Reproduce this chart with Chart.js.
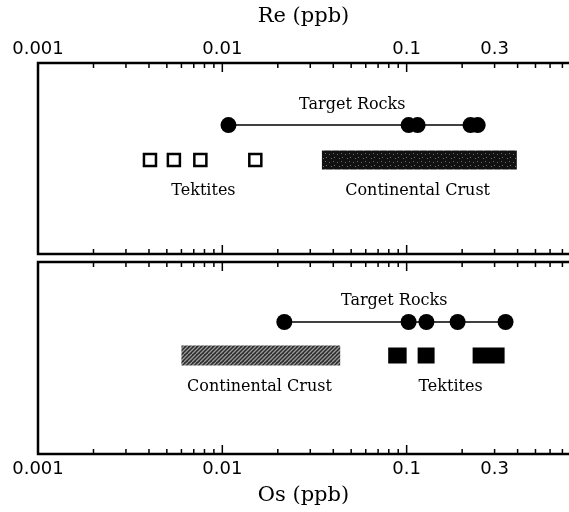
<!DOCTYPE html>
<html><head><meta charset="utf-8">
<script src="https://cdn.jsdelivr.net/npm/chart.js@4/dist/chart.umd.min.js"></script>
<style>html,body{margin:0;padding:0;background:#fff;overflow:hidden}canvas{display:block}</style>
</head><body>
<canvas id="topChart" width="569" height="258"></canvas>
<canvas id="botChart" width="569" height="254"></canvas>
<script>
// ---------- data ----------
const TICK_VALUES = [0.001,0.002,0.003,0.004,0.005,0.006,0.007,0.008,0.009,
                     0.01,0.02,0.03,0.04,0.05,0.06,0.07,0.08,0.09,
                     0.1,0.2,0.3,0.4,0.5,0.6,0.7];
const MAJOR_TICKS = [0.001,0.01,0.1];
const TICK_LABEL_VALUES = [0.001,0.01,0.1,0.3];
const TICK_LABEL_TEXT  = ['0.001','0.01','0.1','0.3'];

// Re (ppb), top panel
const RE_TARGET_ROCKS = [0.0108,0.1025,0.1147,0.222,0.243];
const RE_TEKTITES     = [0.00405,0.00546,0.0076,0.0151];
const RE_CRUST_RANGE  = [0.0347,0.396];

// Os (ppb), bottom panel
const OS_TARGET_ROCKS    = [0.0217,0.1025,0.128,0.189,0.344];
const OS_TEKTITE_RANGES  = [[0.0794,0.100],[0.1147,0.1418],[0.228,0.340]];
const OS_CRUST_RANGE     = [0.0060,0.0436];

// ---------- layout / style constants ----------
const X_MIN = 0.001, X_MAX = 0.76;
const TOP_ROW_LINE = 0.675, TOP_ROW_SAMPLES = 0.492;
const BOT_ROW_LINE = 0.6875, BOT_ROW_SAMPLES = 0.513;
const SERIF = "'DejaVu Serif', serif";
const SANS  = "'DejaVu Sans', sans-serif";

const TOP_NOTES = [
  {text:'Target Rocks', x:0.0507, y:0.78},
  {text:'Tektites', x:0.0079, y:0.33},
  {text:'Continental Crust', x:0.1147, y:0.33}
];
const BOT_NOTES = [
  {text:'Target Rocks', x:0.0856, y:0.80},
  {text:'Continental Crust', x:0.0159, y:0.35},
  {text:'Tektites', x:0.173, y:0.35}
];

function makePattern(kind){
  const c = document.createElement('canvas'); c.width = 8; c.height = 8;
  const g = c.getContext('2d');
  if (kind === 'dark'){
    g.fillStyle = '#111'; g.fillRect(0,0,8,8);
    g.fillStyle = '#707070';
    [[1,2],[5,1],[3,6],[6,5]].forEach(([x,y]) => g.fillRect(x,y,1,1));
  } else {
    g.fillStyle = '#2a2a2a'; g.fillRect(0,0,8,8);
    g.strokeStyle = '#999'; g.lineWidth = 1.3;
    for (let k = -8; k <= 16; k += 4){ g.beginPath(); g.moveTo(k,8); g.lineTo(k+8,0); g.stroke(); }
  }
  return g.createPattern(c,'repeat');
}

function xAxis(pos, title, height){
  return {
    type:'logarithmic', position:pos, min:X_MIN, max:X_MAX,
    afterBuildTicks(s){ s.ticks = TICK_VALUES.map(v => ({value:v})); },
    afterFit(s){ s.height = height; s.paddingLeft = 0; s.paddingRight = 0; },
    grid:{display:false, drawTicks:false}, border:{display:false},
    ticks:{autoSkip:false, maxRotation:0, minRotation:0, padding: pos==='top'?3:5, color:'#000',
      font:{family:SANS, size:18},
      callback(v){ const i = TICK_LABEL_VALUES.indexOf(v); return i >= 0 ? TICK_LABEL_TEXT[i] : ''; }},
    title:{display:true, text:title, color:'#000', font:{family:SERIF, size:21}, padding:{top:4,bottom:4}}
  };
}

const framePlugin = {
  id:'frame',
  afterDatasetsDraw(chart){
    const {ctx, chartArea:a} = chart, xs = chart.scales.x;
    ctx.save();
    ctx.strokeStyle = '#000'; ctx.lineWidth = 2.5; ctx.lineCap = 'square';
    ctx.beginPath();
    ctx.moveTo(a.left, a.top); ctx.lineTo(a.right + 3, a.top);
    ctx.moveTo(a.left, a.bottom); ctx.lineTo(a.right + 3, a.bottom);
    ctx.moveTo(a.left, a.top); ctx.lineTo(a.left, a.bottom);
    ctx.stroke();
    ctx.lineWidth = 1.5; ctx.lineCap = 'butt';
    ctx.beginPath();
    TICK_VALUES.forEach(v => {
      const px = xs.getPixelForValue(v);
      if (px < a.left - 1 || px > a.right + 1) return;
      const len = MAJOR_TICKS.includes(v) ? 9 : 5;
      ctx.moveTo(px, a.top); ctx.lineTo(px, a.top + len);
      ctx.moveTo(px, a.bottom); ctx.lineTo(px, a.bottom - len);
    });
    ctx.stroke();
    ctx.restore();
  }
};

const notesPlugin = {
  id:'notes',
  afterDatasetsDraw(chart, args, opts){
    const {ctx} = chart, xs = chart.scales.x, ys = chart.scales.y;
    ctx.save();
    ctx.fillStyle = '#000'; ctx.font = "16px " + SERIF;
    ctx.textAlign = 'center'; ctx.textBaseline = 'middle';
    (opts.items || []).forEach(n => ctx.fillText(n.text, xs.getPixelForValue(n.x), ys.getPixelForValue(n.y)));
    ctx.restore();
  }
};

function rangeDataset(range, row, color, width){
  return {type:'line', data: range.map(v => ({x:v, y:row})), showLine:true,
          borderColor:color, borderWidth:width, borderCapStyle:'butt',
          pointRadius:0, pointHoverRadius:0, tension:0, fill:false, clip:false};
}
function targetDataset(values, row){
  return {data: values.map(v => ({x:v, y:row})), showLine:true, borderColor:'#000', borderWidth:1.5, clip:false,
          pointRadius:8, pointHoverRadius:8, pointBackgroundColor:'#000', pointBorderColor:'#000', pointBorderWidth:0};
}

function baseOptions(pos, title, axisHeight, padding, notes){
  return {
    responsive:false, animation:false, events:[],
    layout:{padding, autoPadding:false},
    plugins:{legend:{display:false}, tooltip:{enabled:false}, notes:{items:notes}},
    scales:{ x: xAxis(pos, title, axisHeight), y:{type:'linear', min:0, max:1, display:false} }
  };
}

new Chart(document.getElementById('topChart'), {
  type:'scatter',
  data:{datasets:[
    targetDataset(RE_TARGET_ROCKS, TOP_ROW_LINE),
    {data: RE_TEKTITES.map(v => ({x:v, y:TOP_ROW_SAMPLES})), pointStyle:'rect', pointRadius:8.5, pointHoverRadius:8.5,
     pointBackgroundColor:'#fff', pointBorderColor:'#000', pointBorderWidth:2.5, showLine:false, clip:false},
    rangeDataset(RE_CRUST_RANGE, TOP_ROW_SAMPLES, makePattern('dark'), 19)
  ]},
  options: baseOptions('top', 'Re (ppb)', 63, {left:38, right:0, top:0, bottom:4}, TOP_NOTES),
  plugins:[framePlugin, notesPlugin]
});

new Chart(document.getElementById('botChart'), {
  type:'scatter',
  data:{datasets:[
    targetDataset(OS_TARGET_ROCKS, BOT_ROW_LINE),
    ...OS_TEKTITE_RANGES.map(r => rangeDataset(r, BOT_ROW_SAMPLES, '#000', 16)),
    rangeDataset(OS_CRUST_RANGE, BOT_ROW_SAMPLES, makePattern('hatch'), 20)
  ]},
  options: baseOptions('bottom', 'Os (ppb)', 58, {left:38, right:0, top:4, bottom:0}, BOT_NOTES),
  plugins:[framePlugin, notesPlugin]
});
</script>
</body></html>
